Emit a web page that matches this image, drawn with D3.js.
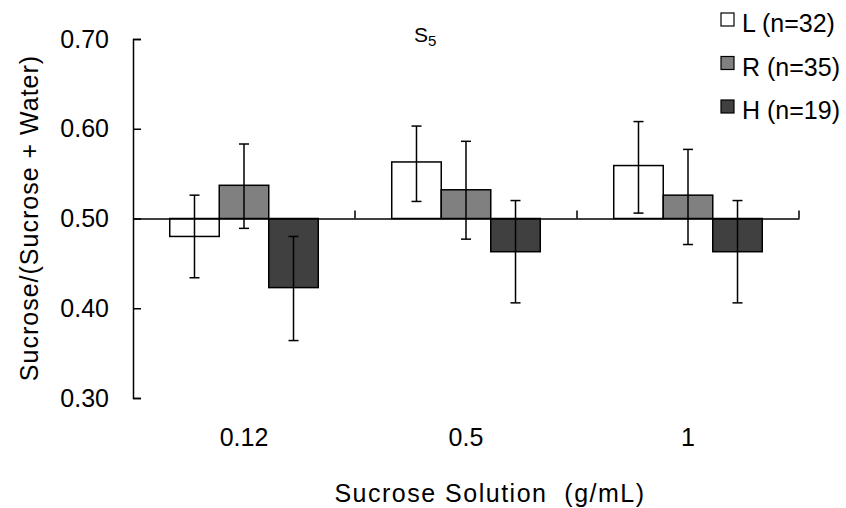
<!DOCTYPE html>
<html>
<head>
<meta charset="utf-8">
<script src="https://cdn.jsdelivr.net/npm/d3@7"></script>
<style>
  html, body { margin: 0; padding: 0; background: #fff; }
  text { font-family: "Liberation Sans", Arial, sans-serif; fill: #000; }
</style>
</head>
<body>
<svg id="chart" width="846" height="508"></svg>
<script>
// ---- data ----
const categories = ["0.12", "0.5", "1"];
const seriesNames = ["L (n=32)", "R (n=35)", "H (n=19)"];
const seriesKeys = ["L", "R", "H"];
const seriesColors = ["#ffffff", "#808080", "#404040"];
const valuesL = [0.480, 0.563, 0.559];
const valuesR = [0.537, 0.532, 0.526];
const valuesH = [0.423, 0.463, 0.463];
const errLowL = [0.434, 0.519, 0.506];
const errHighL = [0.526, 0.603, 0.608];
const errLowR = [0.489, 0.477, 0.471];
const errHighR = [0.583, 0.586, 0.577];
const errLowH = [0.364, 0.406, 0.406];
const errHighH = [0.480, 0.520, 0.520];
const yTicks = [0.30, 0.40, 0.50, 0.60, 0.70];
const baselineValue = 0.5;

const values = [valuesL, valuesR, valuesH];
const lows = [errLowL, errLowR, errLowH];
const highs = [errHighL, errHighR, errHighH];

const rows = [];
categories.forEach((c, ci) => {
  seriesKeys.forEach((s, si) => {
    rows.push({cat: c, key: s, si, v: values[si][ci], lo: lows[si][ci], hi: highs[si][ci]});
  });
});

const svg = d3.select("#chart");
const plotLeft = 133, plotRight = 799, plotTop = 39, plotBottom = 398;

const y = d3.scaleLinear().domain([0.3, 0.7]).range([plotBottom, plotTop]);
const x0 = d3.scaleBand().domain(categories).range([plotLeft, plotRight]).padding(0);
const x1 = d3.scaleBand().domain(seriesKeys).range([0, x0.bandwidth()]).paddingInner(0).paddingOuter(0.742);
const color = d3.scaleOrdinal().domain(seriesKeys).range(seriesColors);

// y axis
const yAxis = d3.axisLeft(y).tickValues(yTicks).tickFormat(d3.format(".2f")).tickSizeInner(-8).tickSizeOuter(-8).tickPadding(24);
const gy = svg.append("g").attr("transform", `translate(${plotLeft},0)`).call(yAxis);
gy.selectAll("path, line").attr("stroke", "#000").attr("stroke-width", 1.5);
gy.selectAll("text").attr("font-size", 25).attr("font-family", "Liberation Sans, Arial, sans-serif").attr("fill", "#000");

// bars
const g = svg.append("g");
g.selectAll("rect.bar").data(rows).enter().append("rect")
  .attr("class", "bar")
  .attr("x", d => x0(d.cat) + x1(d.key))
  .attr("width", x1.bandwidth())
  .attr("y", d => Math.min(y(d.v), y(baselineValue)))
  .attr("height", d => Math.abs(y(d.v) - y(baselineValue)))
  .attr("fill", d => color(d.key))
  .attr("stroke", "#000")
  .attr("stroke-width", 1.5);

// x axis at baseline 0.5
const xAxis = d3.axisBottom(x0).tickSize(0).tickFormat("");
const gx = svg.append("g").attr("transform", `translate(0,${y(baselineValue)})`).call(xAxis);
gx.select("path").attr("stroke", "#000").attr("stroke-width", 1.5);
const boundaries = categories.slice(1).map(c => x0(c)).concat([plotRight]);
gx.selectAll("line.bt").data(boundaries).enter().append("line")
  .attr("class", "bt")
  .attr("x1", d => d).attr("x2", d => d)
  .attr("y1", 0).attr("y2", -8)
  .attr("stroke", "#000").attr("stroke-width", 1.5);

// error bars
const cap = 5;
const eg = svg.append("g");
rows.forEach(d => {
  const cx = x0(d.cat) + x1(d.key) + x1.bandwidth() / 2;
  eg.append("line").attr("x1", cx).attr("x2", cx).attr("y1", y(d.lo)).attr("y2", y(d.hi))
    .attr("stroke", "#000").attr("stroke-width", 1.5);
  [d.lo, d.hi].forEach(v => {
    eg.append("line").attr("x1", cx - cap).attr("x2", cx + cap).attr("y1", y(v)).attr("y2", y(v))
      .attr("stroke", "#000").attr("stroke-width", 1.5);
  });
});

// category labels
svg.append("g").selectAll("text").data(categories).enter().append("text")
  .attr("x", d => x0(d) + x0.bandwidth() / 2)
  .attr("y", 446)
  .attr("text-anchor", "middle")
  .attr("font-size", 25)
  .text(d => d);

// axis titles
svg.append("text")
  .attr("x", 490).attr("y", 502)
  .attr("text-anchor", "middle")
  .attr("font-size", 25)
  .attr("letter-spacing", 1.5)
  .style("white-space", "pre")
  .text("Sucrose Solution  (g/mL)");

svg.append("text")
  .attr("transform", "translate(38,218) rotate(-90)")
  .attr("text-anchor", "middle")
  .attr("font-size", 25)
  .attr("letter-spacing", 1)
  .text("Sucrose/(Sucrose + Water)");

// chart title S5
const t = svg.append("text").attr("x", 414).attr("y", 42).attr("font-size", 21);
t.append("tspan").text("S");
t.append("tspan").attr("font-size", 15).attr("dy", 4).text("5");

// legend
const lg = svg.append("g");
seriesKeys.forEach((k, i) => {
  const yy = 13 + i * 43.5;
  lg.append("rect").attr("x", 721).attr("y", yy).attr("width", 13).attr("height", 13)
    .attr("fill", color(k)).attr("stroke", "#000").attr("stroke-width", 1.2);
  lg.append("text").attr("x", 742).attr("y", yy + 19).attr("font-size", 25).text(seriesNames[i]);
});
</script>
</body>
</html>
